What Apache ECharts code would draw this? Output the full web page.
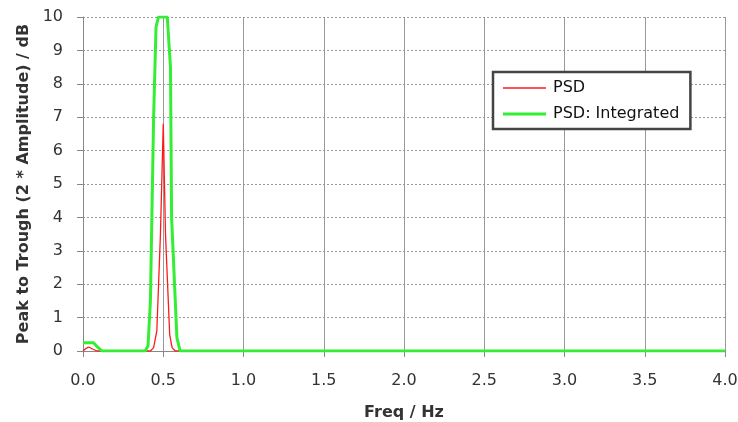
<!DOCTYPE html>
<html>
<head>
<meta charset="utf-8">
<script src="https://cdn.jsdelivr.net/npm/echarts@6/dist/echarts.min.js"></script>
<style>
html,body{margin:0;padding:0;background:#fff;}
#c{width:738px;height:422px;}
</style>
</head>
<body>
<div id="c"></div>
<script>
// Frequencies (Hz) and values (dB)
var psdFreq = [0, 0.02, 0.035, 0.06, 0.087, 0.42, 0.44, 0.46, 0.4825, 0.5, 0.514, 0.54, 0.555, 0.575, 4.0];
var psdVals = [0, 0.08, 0.12, 0.06, 0, 0, 0.1, 0.6, 3.5, 6.8, 3.5, 0.5, 0.1, 0, 0];

var intFreq = [0, 0.066, 0.09, 0.118, 0.387, 0.405, 0.42, 0.44, 0.455, 0.47, 0.525, 0.545, 0.552, 0.585, 0.605, 4.0];
var intVals = [0.25, 0.25, 0.12, 0, 0, 0.15, 1.5, 7, 9.7, 10, 10, 8.5, 4.0, 0.4, 0, 0];

var xTicks = [0, 0.5, 1.0, 1.5, 2.0, 2.5, 3.0, 3.5, 4.0];
var seriesNames = ['PSD', 'PSD: Integrated'];

function pairs(xs, ys){ return xs.map(function(x,i){ return [x, ys[i]]; }); }

var font = '"DejaVu Sans", sans-serif';
var redIcon = 'path://M0,0L0.01,0L0,0.01Z M0,6.2L43,6.2L43,7.8L0,7.8Z M43,14L42.99,14L43,13.99Z';
var greenIcon = 'path://M0,0L0.01,0L0,0.01Z M0,5.5L43,5.5L43,8.5L0,8.5Z M43,14L42.99,14L43,13.99Z';

var chart = echarts.init(document.getElementById('c'));
chart.setOption({
  animation: false,
  backgroundColor: '#fff',
  grid: { left: 83, right: 13, top: 17, bottom: 71, containLabel: false, outerBoundsMode: 'none' },
  legend: {
    orient: 'vertical',
    left: 493, top: 72,
    padding: [8, 11, 7, 10],
    itemGap: 10,
    itemWidth: 43, itemHeight: 14,
    borderColor: '#444', borderWidth: 2.5,
    backgroundColor: '#fff',
    itemStyle: { borderWidth: 0 },
    textStyle: { fontFamily: font, fontSize: 16, lineHeight: 14, color: '#111', padding: [0, 0, 0, 2] },
    data: [
      { name: seriesNames[0], icon: redIcon },
      { name: seriesNames[1], icon: greenIcon }
    ]
  },
  xAxis: {
    type: 'value', min: xTicks[0], max: xTicks[xTicks.length-1], interval: 0.5,
    name: 'Freq / Hz', nameLocation: 'middle', nameGap: 54,
    nameTextStyle: { fontFamily: font, fontSize: 16, fontWeight: 'bold', color: '#333' },
    axisLine: { show: true, onZero: false, lineStyle: { color: '#888', width: 1 } },
    axisTick: { show: true, inside: false, length: 6, lineStyle: { color: '#888' } },
    axisLabel: { margin: 22, fontFamily: font, fontSize: 16, color: '#333',
      formatter: function(v){ return v.toFixed(1); } },
    splitLine: { show: true, lineStyle: { color: '#999', width: 1, type: 'solid' } }
  },
  yAxis: {
    type: 'value', min: 0, max: 10, interval: 1,
    name: 'Peak to Trough (2 * Amplitude) / dB', nameLocation: 'middle', nameGap: 51,
    nameTextStyle: { fontFamily: font, fontSize: 16, fontWeight: 'bold', color: '#333' },
    axisLine: { show: true, lineStyle: { color: '#888', width: 1 } },
    axisTick: { show: true, inside: false, length: 6, lineStyle: { color: '#888' } },
    axisLabel: { margin: 20, fontFamily: font, fontSize: 16, color: '#333' },
    splitLine: { show: true, lineStyle: { color: '#999', width: 1, type: [2, 2] } }
  },
  series: [
    {
      name: seriesNames[0], type: 'line', symbol: 'none', smooth: false,
      data: pairs(psdFreq, psdVals),
      lineStyle: { color: '#ff1a1a', width: 1.3 },
      itemStyle: { color: '#ff1a1a' },
      z: 2
    },
    {
      name: seriesNames[1], type: 'line', symbol: 'none', smooth: false,
      data: pairs(intFreq, intVals),
      lineStyle: { color: '#33ee33', width: 3 },
      itemStyle: { color: '#33ee33' },
      z: 3
    }
  ]
});
</script>
</body>
</html>
